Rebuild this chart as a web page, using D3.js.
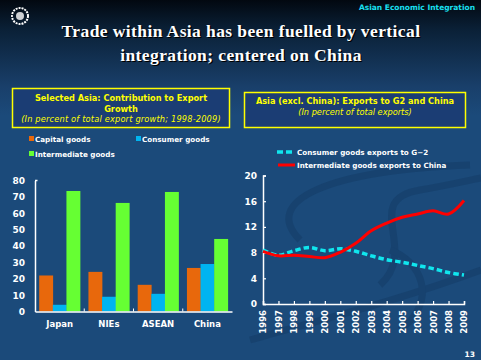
<!DOCTYPE html>
<html><head><meta charset="utf-8">
<script src="https://cdn.jsdelivr.net/npm/d3@7"></script>
<style>html,body{margin:0;padding:0;background:#1b4a7a;}svg{display:block;}</style>
</head><body>
<script>
// ---- data ----
const barCategories = ["Japan", "NIEs", "ASEAN", "China"];
const barSeries = ["Capital goods", "Consumer goods", "Intermediate goods"];
const capitalGoods = [22, 24.2, 16.3, 26.6];
const consumerGoods = [4.1, 9, 10.8, 29];
const intermediateGoods = [73.6, 66.3, 73, 44.3];
const barTicks = [0, 10, 20, 30, 40, 50, 60, 70, 80];

const years = [1996,1997,1998,1999,2000,2001,2002,2003,2004,2005,2006,2007,2008,2009];
const consumerToG2 = [8.4,7.6,8.3,8.8,8.3,8.6,8.2,7.5,6.9,6.5,6.0,5.5,4.9,4.5];
const intermediateToChina = [8.2,7.5,7.6,7.4,7.2,8.05,9.45,11.4,12.6,13.5,14.0,14.5,14.0,16.1];
const lineTicks = [0, 4, 8, 12, 16, 20];

const W = 481, H = 360;
const svg = d3.select("body").append("svg").attr("width", W).attr("height", H);
const defs = svg.append("defs");
const bg = defs.append("linearGradient").attr("id","bg").attr("x1",0).attr("y1",0).attr("x2",0).attr("y2",1);
bg.append("stop").attr("offset","0%").attr("stop-color","#020810");
bg.append("stop").attr("offset","8%").attr("stop-color","#0a2036");
bg.append("stop").attr("offset","24%").attr("stop-color","#193f6a");
bg.append("stop").attr("offset","32%").attr("stop-color","#1b4a7a");
bg.append("stop").attr("offset","100%").attr("stop-color","#1b4a7a");
svg.append("rect").attr("width",W).attr("height",H).attr("fill","url(#bg)");

// faint swirls in background
const sw = svg.append("g").attr("fill","none").attr("stroke","#17416d").attr("stroke-width",7).attr("opacity",0.8);
sw.append("path").attr("d","M300,240 C260,200 330,170 470,165");
sw.append("path").attr("d","M380,285 C420,250 360,200 420,190 C450,185 470,180 481,178");
sw.append("path").attr("d","M250,340 C320,320 400,300 481,270");
sw.append("path").attr("d","M390,250 C420,260 440,300 400,330");

const sans = "'DejaVu Sans', Verdana, sans-serif";

// header
svg.append("text").attr("x",475).attr("y",10).attr("text-anchor","end")
  .attr("font-family",sans).attr("font-weight","bold").attr("font-size",7.5)
  .attr("fill","#19e0f0").text("Asian Economic Integration");
// logo
svg.append("circle").attr("cx",20).attr("cy",16).attr("r",8).attr("fill","none")
  .attr("stroke","#ffffff").attr("stroke-width",2).attr("stroke-dasharray","2 1");
svg.append("circle").attr("cx",20).attr("cy",16).attr("r",4).attr("fill","#ffffff").attr("opacity",0.8);

const titleLines = ["Trade within Asia has been fuelled by vertical", "integration; centered on China"];
titleLines.forEach((t,i)=>{
  [[1.2,"#000000"],[0,"#ffffff"]].forEach(([o,c])=>{
    svg.append("text").attr("x",241+o).attr("y",37+i*24+o).attr("text-anchor","middle")
      .attr("font-family","'Liberation Serif','Times New Roman',serif").attr("font-weight","bold")
      .attr("font-size",17.5).attr("letter-spacing",0.4).attr("fill",c).text(t);
  });
});

// title boxes
function box(x,y,w,h,lines){
  svg.append("rect").attr("x",x).attr("y",y).attr("width",w).attr("height",h)
    .attr("fill","#1b3d74").attr("stroke","#ffff00").attr("stroke-width",1.5);
  lines.forEach(l=>{
    svg.append("text").attr("x",x+w/2).attr("y",l.y).attr("text-anchor","middle")
      .attr("font-family",sans).attr("font-weight",l.italic?"normal":"bold")
      .attr("font-style",l.italic?"italic":"normal").attr("font-size",l.size)
      .attr("letter-spacing",l.ls||0)
      .attr("fill","#ffff00").text(l.t);
  });
}
box(12.5,88.5,217,39,[
  {t:"Selected Asia: Contribution to Export",y:100.5,size:8.2},
  {t:"Growth",y:111.5,size:8.2},
  {t:"(In percent of total export growth; 1998-2009)",y:122,size:8.2,italic:true,ls:0.2}]);
box(244.5,92.5,221,35,[
  {t:"Asia (excl. China): Exports to G2 and China",y:104,size:8.2},
  {t:"(In percent of total exports)",y:115,size:8.2,italic:true}]);

// ---- bar chart ----
const barColors = ["#e8680c","#00b4f0","#66ff33"];
const barValues = [capitalGoods, consumerGoods, intermediateGoods];
const bx = d3.scaleBand().domain(barCategories).range([35,232]).paddingInner(0.17).paddingOuter(0.085);
const bxi = d3.scaleBand().domain(barSeries).range([0,bx.bandwidth()]);
const by = d3.scaleLinear().domain([0,80]).range([311.5,180.5]);

// legend
const legPos = [[30,142],[137,142],[30,157]];
barSeries.forEach((s,i)=>{
  svg.append("rect").attr("x",legPos[i][0]-1).attr("y",legPos[i][1]-6).attr("width",5).attr("height",5).attr("fill",barColors[i]);
  svg.append("text").attr("x",legPos[i][0]+5).attr("y",legPos[i][1]).attr("font-family",sans)
    .attr("font-weight","bold").attr("font-size",7.2).attr("fill","#ffffff").text(s);
});

const gb = svg.append("g");
barSeries.forEach((s,si)=>{
  gb.selectAll(null).data(barCategories).enter().append("rect")
    .attr("x",d=>bx(d)+bxi(s)).attr("width",bxi.bandwidth()+0.3)
    .attr("y",(d,i)=>by(barValues[si][i])).attr("height",(d,i)=>by(0)-by(barValues[si][i]))
    .attr("fill",barColors[si]);
});
// axes
const yAxL = svg.append("g").attr("transform","translate(35,0)")
  .call(d3.axisLeft(by).tickValues(barTicks).tickSize(0).tickPadding(10).tickFormat(d3.format("d")));
yAxL.select(".domain").attr("stroke","#ffffff").attr("stroke-width",1.5);
yAxL.selectAll("text").attr("font-family",sans).attr("font-weight","bold").attr("font-size",9).attr("fill","#ffffff");
svg.append("line").attr("x1",35).attr("x2",37.5).attr("y1",by(80)).attr("y2",by(80)).attr("stroke","#fff").attr("stroke-width",1.5);
const xAxL = svg.append("g").attr("transform",`translate(0,${by(0)})`)
  .call(d3.axisBottom(bx).tickSize(0).tickPadding(9));
xAxL.select(".domain").attr("stroke","#ffffff").attr("stroke-width",1.5);
xAxL.selectAll("text").attr("font-family",sans).attr("font-weight","bold").attr("font-size",8.5).attr("fill","#ffffff");
// group separator ticks
barCategories.slice(1).forEach(c=>{
  const x = bx(c) - bx.step()*bx.paddingInner()/2;
  svg.append("line").attr("x1",x).attr("x2",x).attr("y1",by(0)).attr("y2",by(0)-3).attr("stroke","#fff").attr("stroke-width",1);
});

// ---- line chart ----
const lx = d3.scalePoint().domain(years).range([263,464]);
const ly = d3.scaleLinear().domain([0,20]).range([304,175.5]);

const yAxR = svg.append("g").attr("transform","translate(263,0)")
  .call(d3.axisRight(ly).tickValues(lineTicks).tickSize(3).tickFormat(d3.format("d")));
yAxR.select(".domain").attr("stroke","#ffffff").attr("stroke-width",1.5);
yAxR.selectAll(".tick line").attr("stroke","#ffffff").attr("stroke-width",1.2);
yAxR.selectAll("text").attr("x",-6).attr("text-anchor","end").attr("font-family",sans)
  .attr("font-weight","bold").attr("font-size",9).attr("fill","#ffffff");
const xAxR = svg.append("g").attr("transform",`translate(0,${ly(0)})`)
  .call(d3.axisTop(lx).tickSize(3).tickFormat(d3.format("d")));
xAxR.select(".domain").attr("stroke","#ffffff").attr("stroke-width",1.5);
xAxR.selectAll(".tick line").attr("stroke","#ffffff").attr("stroke-width",1.2);
xAxR.selectAll(".tick text").attr("transform","translate(0,6) rotate(-90)").attr("x",0).attr("y",0)
  .attr("dy","0.35em").attr("text-anchor","end").attr("font-family",sans).attr("font-weight","bold")
  .attr("font-size",8.5).attr("fill","#ffffff");

const line = d3.line().x((d,i)=>lx(years[i])).y(d=>ly(d)).curve(d3.curveCatmullRom.alpha(0.5));
svg.append("path").datum(consumerToG2).attr("d",line).attr("fill","none")
  .attr("stroke","#10e6ee").attr("stroke-width",3.5).attr("stroke-dasharray","5.5 3");
svg.append("path").datum(intermediateToChina).attr("d",line).attr("fill","none")
  .attr("stroke","#ff0000").attr("stroke-width",3);

// legend
svg.append("line").attr("x1",277).attr("x2",295).attr("y1",152).attr("y2",152).attr("stroke","#10e6ee")
  .attr("stroke-width",3.5).attr("stroke-dasharray","6 3");
svg.append("text").attr("x",297).attr("y",154.5).attr("font-family",sans).attr("font-weight","bold")
  .attr("font-size",7.2).attr("fill","#ffffff").text("Consumer goods exports to G\u22122");
svg.append("line").attr("x1",278).attr("x2",295).attr("y1",165).attr("y2",165).attr("stroke","#ff0000").attr("stroke-width",3);
svg.append("text").attr("x",297).attr("y",167.5).attr("font-family",sans).attr("font-weight","bold")
  .attr("font-size",7.2).attr("fill","#ffffff").text("Intermediate goods exports to China");

// page number
svg.append("text").attr("x",475).attr("y",357).attr("text-anchor","end").attr("font-family",sans)
  .attr("font-weight","bold").attr("font-size",7.5).attr("fill","#ffffff").text("13");
</script>
</body></html>
